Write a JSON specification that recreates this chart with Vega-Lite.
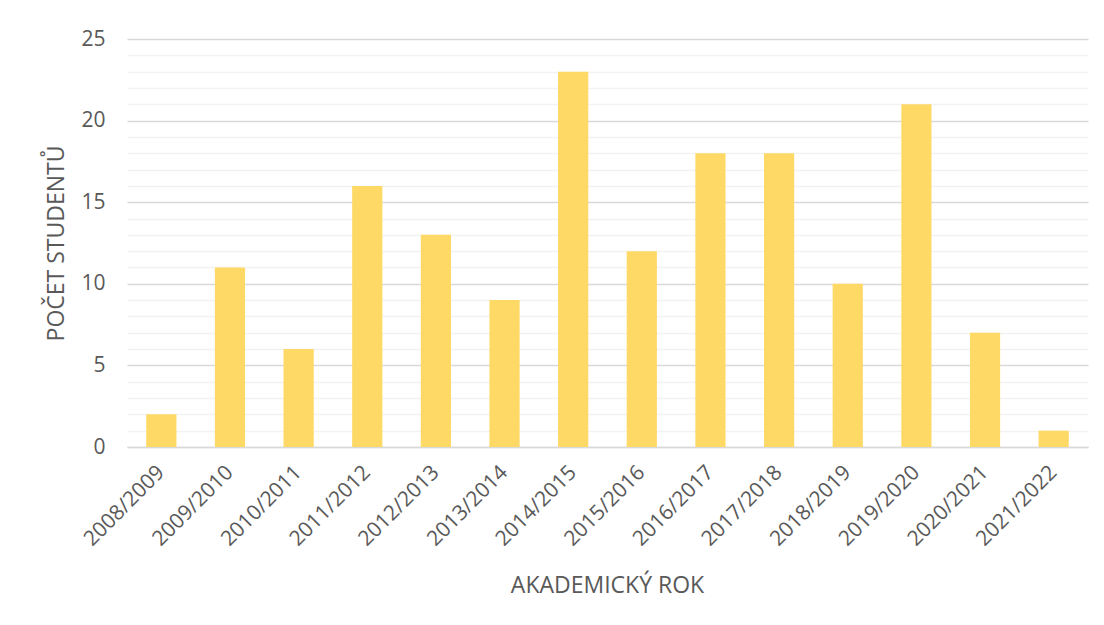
{
  "$schema": "https://vega.github.io/schema/vega-lite/v6.json",
  "autosize": "none",
  "width": 961,
  "height": 408,
  "padding": {"left": 127, "top": 39, "right": 16, "bottom": 178},
  "background": "white",
  "config": {
    "view": {"stroke": null},
    "font": "Open Sans"
  },
  "data": {
    "values": [
      {"rok": "2008/2009", "pocet": 2},
      {"rok": "2009/2010", "pocet": 11},
      {"rok": "2010/2011", "pocet": 6},
      {"rok": "2011/2012", "pocet": 16},
      {"rok": "2012/2013", "pocet": 13},
      {"rok": "2013/2014", "pocet": 9},
      {"rok": "2014/2015", "pocet": 23},
      {"rok": "2015/2016", "pocet": 12},
      {"rok": "2016/2017", "pocet": 18},
      {"rok": "2017/2018", "pocet": 18},
      {"rok": "2018/2019", "pocet": 10},
      {"rok": "2019/2020", "pocet": 21},
      {"rok": "2020/2021", "pocet": 7},
      {"rok": "2021/2022", "pocet": 1}
    ]
  },
  "mark": {"type": "bar", "color": "#FFD966"},
  "encoding": {
    "x": {
      "field": "rok",
      "type": "nominal",
      "sort": null,
      "scale": {"paddingInner": 0.56, "paddingOuter": 0.28},
      "axis": {
        "title": "AKADEMICKÝ ROK",
        "titleFont": "Open Sans",
        "titleFontSize": 23,
        "titleFontWeight": "normal",
        "titleColor": "#595959",
        "titleX": 480,
        "titleY": 145,
        "titleAnchor": "middle",
        "titleAlign": "center",
        "titleBaseline": "alphabetic",
        "labelAngle": -45,
        "labelAlign": "right",
        "labelBaseline": "middle",
        "labelFont": "Open Sans",
        "labelFontSize": 21,
        "labelColor": "#595959",
        "labelPadding": 22,
        "labelOverlap": false,
        "ticks": false,
        "tickSize": 0,
        "domain": true,
        "domainColor": "#D9D9D9",
        "domainWidth": 1.5,
        "grid": false
      }
    },
    "y": {
      "field": "pocet",
      "type": "quantitative",
      "scale": {"domain": [0, 25], "nice": false},
      "axis": {
        "title": "POČET STUDENTŮ",
        "titleFont": "Open Sans",
        "titleFontSize": 23,
        "titleFontWeight": "normal",
        "titleColor": "#595959",
        "titleAngle": -90,
        "titleX": -64,
        "titleY": 204,
        "titleAlign": "center",
        "titleBaseline": "alphabetic",
        "values": [0,1,2,3,4,5,6,7,8,9,10,11,12,13,14,15,16,17,18,19,20,21,22,23,24,25],
        "labelExpr": "datum.value % 5 === 0 ? datum.label : ''",
        "labelFont": "Open Sans",
        "labelFontSize": 21,
        "labelColor": "#595959",
        "labelPadding": 22,
        "ticks": false,
        "tickSize": 0,
        "domain": false,
        "grid": true,
        "gridColor": {"condition": {"test": "datum.value % 5 === 0", "value": "#D9D9D9"}, "value": "#F2F2F2"},
        "gridWidth": 1.5
      }
    }
  }
}
